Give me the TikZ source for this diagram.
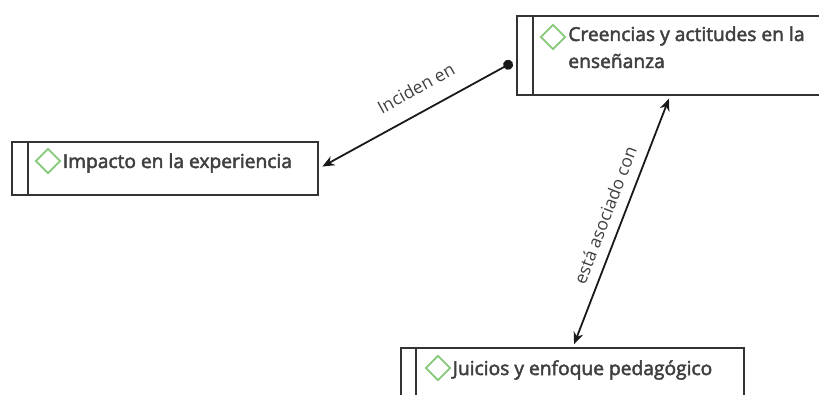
\documentclass[tikz,border=0pt]{standalone}
\usepackage{fontspec}
\setmainfont{Open Sans}
\newfontfamily\codefont{Open Sans}[FakeBold=2.5]
\usetikzlibrary{arrows.meta,shapes.geometric,positioning}
\definecolor{gemgreen}{RGB}{134,201,118}

\begin{document}
\begin{tikzpicture} [x=1pt,y=1pt,thick,>={Stealth[length=12pt,width=10pt]},
			code box/.style={draw=black!80,line width=1.9pt,anchor=north west,inner sep=0pt},
			code gem/.style={diamond,draw=gemgreen,line width=1.9pt,minimum size=25pt,inner sep=0pt},
			code text/.style={text=black!75,font=\codefont\fontsize{19.2}{27}\selectfont,inner sep=1pt,anchor=west,align=left},
		link/.style={line width=1.8pt,black!90},
		link label/.style={text=black!75,font=\fontsize{17.5}{19}\selectfont,sloped,above,inner sep=10pt}]

		\useasboundingbox (0,0) rectangle (819,-394);

		% codes
		\node [code box, minimum width=316, minimum height=79] (creencias) at (516,-15) {};
		\draw [code box] ([xshift=17]creencias.north west) -- ([xshift=17]creencias.south west);
		\node [code gem] (gem_c) at (553,-37) {};
		\node [code text, anchor=north west] (txt_c) at (567,-25) {Creencias y actitudes en la\\enseñanza};

		\node [code box, minimum width=306, minimum height=53] (impacto) at (11,-141) {};
		\draw [code box] ([xshift=17]impacto.north west) -- ([xshift=17]impacto.south west);
		\node [code gem] (gem_i) at (48,-161) {};
		\node [code text, right=0pt of gem_i, yshift=-2] (txt_i) {Impacto en la experiencia};

		\node [code box, minimum width=343, minimum height=60] (juicios) at (400,-347) {};
		\draw [code box] ([xshift=16]juicios.north west) -- ([xshift=16]juicios.south west);
		\node [code gem] (gem_j) at (438,-368) {};
		\node [code text, right=0pt of gem_j, yshift=-2] (txt_j) {Juicios y enfoque pedagógico};

		% links
		\coordinate (from_c) at ([yshift=-5]creencias.west);
		\draw [link, {Circle[length=10pt]}->, shorten <=4pt, shorten >=4pt] (from_c) -- (impacto.east)
			node [link label, pos=0.45, inner sep=16pt] {Inciden en};
		\draw [link, <->, shorten <=3pt, shorten >=3pt] ([xshift=173]juicios.north west) -- ([xshift=154]creencias.south west)
			node [link label, midway] {está asociado con};
		\end{tikzpicture}
\end{document}
